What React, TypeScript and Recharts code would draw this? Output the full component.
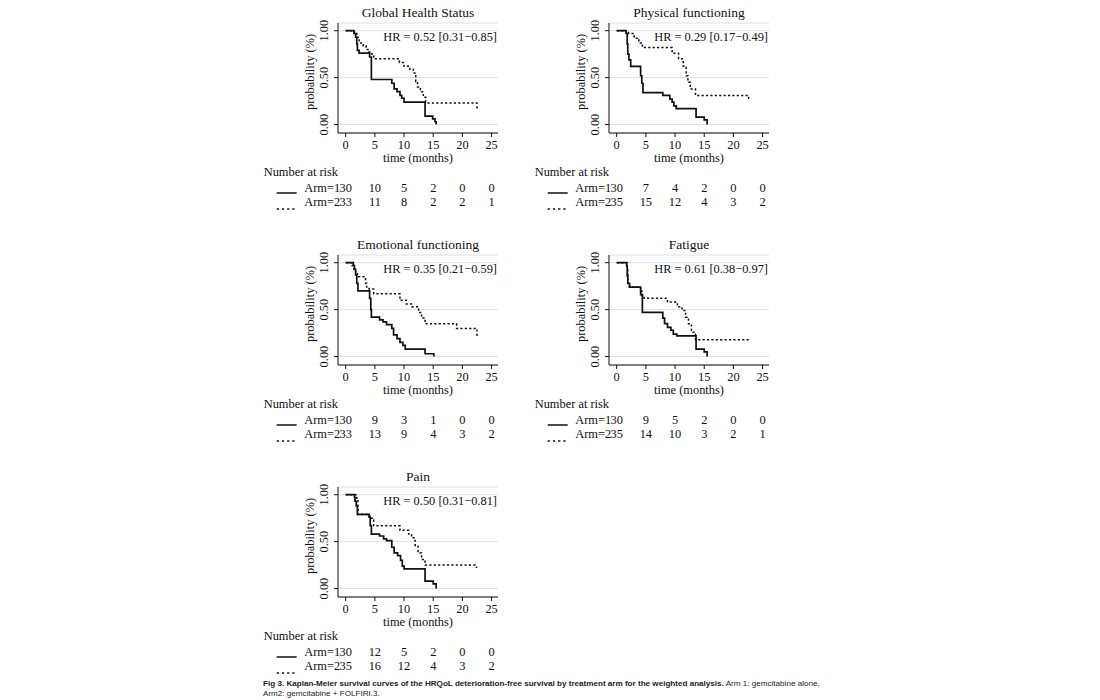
import { LineChart, Line, XAxis, YAxis, CartesianGrid } from "recharts"

const serif = "'Liberation Serif', 'Times New Roman', serif"
const ink = "#111"

const timeTicks = [0, 5, 10, 15, 20, 25]
const probTicks = [0, 0.5, 1]

// number at risk at each time tick
const ghsRisk1 = [30, 10, 5, 2, 0, 0]
const ghsRisk2 = [33, 11, 8, 2, 2, 1]
const pfRisk1 = [30, 7, 4, 2, 0, 0]
const pfRisk2 = [35, 15, 12, 4, 3, 2]
const efRisk1 = [30, 9, 3, 1, 0, 0]
const efRisk2 = [33, 13, 9, 4, 3, 2]
const faRisk1 = [30, 9, 5, 2, 0, 0]
const faRisk2 = [35, 14, 10, 3, 2, 1]
const paRisk1 = [30, 12, 5, 2, 0, 0]
const paRisk2 = [35, 16, 12, 4, 3, 2]

// Kaplan-Meier curves, [months, survival]
const ghsArm1 = [[0, 1], [1.4, 0.97], [1.7, 0.93], [1.9, 0.86], [2.0, 0.79], [2.3, 0.76], [4.1, 0.72], [4.4, 0.48], [7.9, 0.44], [8.3, 0.38], [8.8, 0.35], [9.3, 0.31], [9.6, 0.28], [10.0, 0.24], [13.6, 0.09], [14.9, 0.06], [15.3, 0.03], [15.5, 0]]
const ghsArm2 = [[0, 1], [1.5, 0.97], [1.9, 0.93], [2.3, 0.87], [3.0, 0.84], [3.5, 0.8], [4.0, 0.77], [4.5, 0.73], [4.8, 0.7], [9.2, 0.66], [10.0, 0.62], [11.0, 0.59], [11.6, 0.55], [12.0, 0.46], [12.3, 0.4], [12.8, 0.35], [13.3, 0.29], [13.7, 0.23], [22.5, 0.16]]
const pfArm1 = [[0, 1], [1.6, 0.97], [1.8, 0.86], [1.9, 0.75], [2.1, 0.69], [2.4, 0.62], [4.1, 0.52], [4.3, 0.44], [4.5, 0.34], [7.9, 0.31], [9.1, 0.27], [9.5, 0.24], [9.8, 0.2], [10.2, 0.17], [13.6, 0.08], [15.0, 0.05], [15.5, 0]]
const pfArm2 = [[0, 1], [1.6, 0.98], [2.0, 0.97], [3.0, 0.92], [3.8, 0.87], [4.4, 0.82], [9.5, 0.76], [10.6, 0.7], [11.4, 0.62], [11.9, 0.52], [12.2, 0.45], [12.6, 0.38], [13.5, 0.31], [22.6, 0.25]]
const efArm1 = [[0, 1], [1.3, 0.97], [1.5, 0.93], [1.7, 0.87], [1.9, 0.78], [2.1, 0.7], [4.1, 0.62], [4.3, 0.5], [4.4, 0.42], [5.8, 0.39], [6.4, 0.37], [7.0, 0.34], [7.9, 0.3], [8.2, 0.23], [8.8, 0.19], [9.3, 0.15], [9.8, 0.12], [10.2, 0.08], [13.6, 0.03], [15.1, 0]]
const efArm2 = [[0, 1], [1.1, 0.97], [1.4, 0.93], [1.7, 0.89], [2.0, 0.85], [3.4, 0.78], [3.6, 0.74], [4.0, 0.72], [4.8, 0.67], [9.3, 0.6], [10.4, 0.56], [11.3, 0.53], [12.5, 0.47], [13.0, 0.41], [13.6, 0.35], [19.0, 0.3], [22.5, 0.22]]
const faArm1 = [[0, 1], [1.7, 0.97], [1.8, 0.86], [1.9, 0.78], [2.2, 0.74], [4.1, 0.66], [4.4, 0.47], [7.9, 0.41], [8.2, 0.35], [8.7, 0.31], [9.3, 0.28], [9.7, 0.24], [10.3, 0.22], [13.6, 0.08], [15.0, 0.05], [15.5, 0]]
const faArm2 = [[0, 1], [1.8, 0.95], [1.9, 0.78], [2.2, 0.74], [4.1, 0.7], [4.3, 0.65], [4.7, 0.62], [8.7, 0.58], [10.4, 0.53], [11.2, 0.49], [11.8, 0.42], [12.3, 0.35], [12.8, 0.26], [13.5, 0.18], [22.5, 0.15]]
const paArm1 = [[0, 1], [1.5, 0.97], [1.6, 0.93], [1.8, 0.88], [2.0, 0.79], [4.0, 0.76], [4.2, 0.67], [4.4, 0.58], [5.8, 0.56], [6.5, 0.53], [7.0, 0.51], [7.9, 0.44], [8.3, 0.38], [8.9, 0.35], [9.4, 0.3], [9.7, 0.24], [10.0, 0.21], [13.6, 0.08], [15.0, 0.05], [15.5, 0]]
const paArm2 = [[0, 1], [1.9, 0.95], [2.1, 0.79], [4.1, 0.75], [4.8, 0.67], [9.3, 0.62], [10.8, 0.58], [11.3, 0.54], [11.9, 0.46], [12.4, 0.38], [13.0, 0.31], [13.6, 0.25], [22.4, 0.22]]

const toRows = (pts: number[][]) => pts.map(([t, s]) => ({ t, s }))

function ProbTick({ x, y, payload }: any) {
  const bx = x - 4
  return (
    <text x={bx} y={y} transform={`rotate(-90, ${bx}, ${y})`} textAnchor="middle" fill={ink} fontSize={12.4} fontFamily={serif}>
      {Number(payload.value).toFixed(2)}
    </text>
  )
}

function RiskTick({ x, y, payload, r1, r2 }: any) {
  const i = timeTicks.indexOf(payload.value)
  const txt = { fill: ink, fontSize: 12.4, fontFamily: serif }
  return (
    <g>
      {i === 0 && (
        <g>
          <text x={x - 82} y={y + 11} {...txt}>Number at risk</text>
          <line x1={x - 69} x2={x - 49} y1={y + 28} y2={y + 28} stroke={ink} strokeWidth={1.5} />
          <line x1={x - 69} x2={x - 49} y1={y + 44} y2={y + 44} stroke={ink} strokeWidth={1.5} strokeDasharray="2.2 3" />
          <text x={x - 5.5} y={y + 27.4} textAnchor="end" {...txt}>Arm=1</text>
          <text x={x - 5.5} y={y + 41.4} textAnchor="end" {...txt}>Arm=2</text>
        </g>
      )}
      <text x={x} y={y + 27.4} textAnchor="middle" {...txt}>{r1[i]}</text>
      <text x={x} y={y + 41.4} textAnchor="middle" {...txt}>{r2[i]}</text>
    </g>
  )
}

function KmPanel({ left, top, title, hr, arm1, arm2, risk1, risk2 }: any) {
  return (
    <div style={{ position: "absolute", left, top, width: 270, height: 232 }}>
      <div style={{ position: "absolute", left: 83, top: 6.7, width: 160, textAlign: "center", fontFamily: serif, fontSize: 13.5, lineHeight: "16px", color: ink }}>
        {title}
      </div>
      <div style={{ position: "absolute", right: 28, top: 32.4, fontFamily: serif, fontSize: 12.4, lineHeight: "15px", color: ink, whiteSpace: "nowrap", zIndex: 2 }}>
        {hr}
      </div>
      <LineChart width={270} height={232} margin={{ top: 25, right: 27, bottom: 17, left: 27 }}>
        <CartesianGrid vertical={false} stroke="#d6e2e6" />
        <XAxis
          type="number"
          dataKey="t"
          domain={[-1.32, 26.1]}
          ticks={timeTicks}
          interval={0}
          allowDataOverflow
          height={32}
          tickSize={4}
          tickMargin={3}
          stroke={ink}
          tick={{ fill: ink, fontSize: 12.4, fontFamily: serif }}
          label={{ value: "time (months)", position: "insideBottom", offset: 3, fill: ink, fontSize: 12.4, fontFamily: serif }}
        />
        <XAxis
          xAxisId="risk"
          type="number"
          dataKey="t"
          domain={[-1.32, 26.1]}
          ticks={timeTicks}
          interval={0}
          allowDataOverflow
          height={48}
          axisLine={false}
          tickLine={false}
          tickSize={0}
          tickMargin={0}
          tick={(p: any) => <RiskTick {...p} r1={risk1} r2={risk2} />}
        />
        <YAxis
          type="number"
          dataKey="s"
          domain={[-0.09, 1.082]}
          ticks={probTicks}
          interval={0}
          allowDataOverflow
          width={56}
          tickSize={4}
          tickMargin={2}
          stroke={ink}
          tick={<ProbTick />}
          label={{ value: "probability (%)", angle: -90, position: "center", dy: -6, fill: ink, fontSize: 12.4, fontFamily: serif }}
        />
        <Line data={toRows(arm2)} dataKey="s" type="stepAfter" stroke={ink} strokeWidth={1.5} strokeDasharray="2.2 2.2" dot={false} activeDot={false} isAnimationActive={false} />
        <Line data={toRows(arm1)} dataKey="s" type="stepAfter" stroke={ink} strokeWidth={1.7} dot={false} activeDot={false} isAnimationActive={false} />
      </LineChart>
    </div>
  )
}

export default function App() {
  return (
    <div style={{ position: "absolute", left: 0, top: 0, width: 1100, height: 700, background: "#fff", overflow: "hidden" }}>
      <KmPanel left={255} top={-2} title="Global Health Status" hr="HR = 0.52 [0.31−0.85]" arm1={ghsArm1} arm2={ghsArm2} risk1={ghsRisk1} risk2={ghsRisk2} />
      <KmPanel left={526} top={-2} title="Physical functioning" hr="HR = 0.29 [0.17−0.49]" arm1={pfArm1} arm2={pfArm2} risk1={pfRisk1} risk2={pfRisk2} />
      <KmPanel left={255} top={230} title="Emotional functioning" hr="HR = 0.35 [0.21−0.59]" arm1={efArm1} arm2={efArm2} risk1={efRisk1} risk2={efRisk2} />
      <KmPanel left={526} top={230} title="Fatigue" hr="HR = 0.61 [0.38−0.97]" arm1={faArm1} arm2={faArm2} risk1={faRisk1} risk2={faRisk2} />
      <KmPanel left={255} top={462} title="Pain" hr="HR = 0.50 [0.31−0.81]" arm1={paArm1} arm2={paArm2} risk1={paRisk1} risk2={paRisk2} />
      <div style={{ position: "absolute", left: 263, top: 679, width: 620, fontFamily: "'Liberation Sans', Arial, sans-serif", fontSize: 8.1, lineHeight: "9.6px", color: "#222" }}>
        <b>Fig 3. Kaplan-Meier survival curves of the HRQoL deterioration-free survival by treatment arm for the weighted analysis.</b> Arm 1: gemcitabine alone,
        <br />
        Arm2: gemcitabine + FOLFIRI.3.
      </div>
    </div>
  )
}
